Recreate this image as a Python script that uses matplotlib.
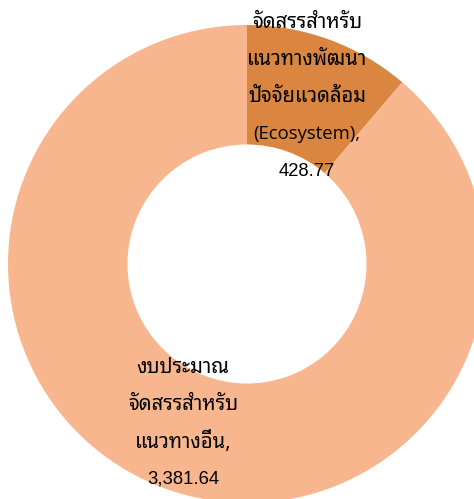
import matplotlib
matplotlib.use('Agg')
import matplotlib.pyplot as plt

# ข้อมูลงบประมาณ
labels = ['จัดสรรสำหรับ\nแนวทางพัฒนา\nปัจจัยแวดล้อม\n(Ecosystem)',
          'งบประมาณ\nจัดสรรสำหรับ\nแนวทางอื่น']
values = [428.77, 3381.64]
colors = ['#DA8540', '#F8B68F']

# ตำแหน่งบรรทัดแรกของแต่ละป้าย (พิกัดข้อมูล)
label_pos = [(0.251, 1.008), (-0.268, -0.435)]
line_step = 0.155


def has_thai(s):
    return any('\u0e00' <= ch <= '\u0e7f' for ch in s)


fig = plt.figure(figsize=(4.74, 4.99), dpi=100)
ax = fig.add_axes([8 / 474, -4 / 499, 478 / 474, 478 / 499])
ax.pie(values, colors=colors, startangle=90, counterclock=False,
       radius=1.0, wedgeprops=dict(width=0.5, linewidth=0))
ax.set_xlim(-1, 1)
ax.set_ylim(-1, 1)
ax.set_aspect('auto')
ax.axis('off')

for lab, v, (x, y) in zip(labels, values, label_pos):
    lines = (lab + ',').split('\n') + [f'{v:,.2f}']
    for i, line in enumerate(lines):
        if has_thai(line):
            fam, size, w = ['Noto Sans Thai Looped', 'Liberation Sans'], 14.5, 'medium'
        elif line[0].isdigit():
            fam, size, w = ['Liberation Sans'], 13.3, 'normal'
        else:
            fam, size, w = ['Open Sans'], 13.3, 'normal'
        ax.text(x, y - i * line_step, line, ha='center', va='center',
                fontsize=size, family=fam, fontweight=w, color='black')

fig.savefig('out.png', dpi=100)
